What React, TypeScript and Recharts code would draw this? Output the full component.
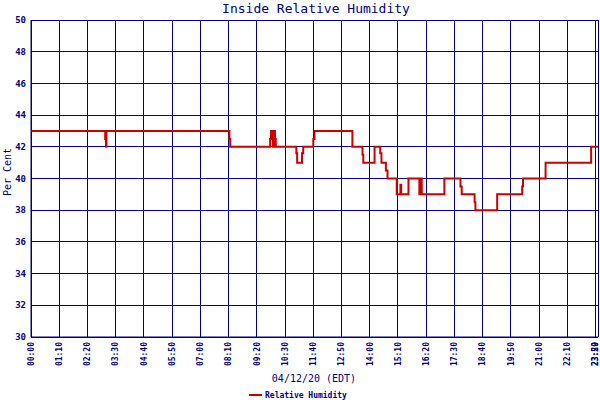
import { CartesianGrid, Line, LineChart, XAxis, YAxis } from "recharts"

// sample slot on the time axis; ticks fall every 70 slots (70 minutes),
// the last few samples of the day are compressed into the final slots
const slots = [
  0, 184, 186, 187, 492, 494, 593, 595, 600, 602, 605, 607, 658, 660, 672, 675, 700, 703, 797,
  822, 824, 852, 866, 869, 880, 884, 907, 916, 918, 936, 963, 965, 969, 1025, 1065, 1068, 1100,
  1102, 1156, 1218, 1220, 1276, 1389, 1406,
]
const humidity = [
  43, 42.5, 42, 43, 42.5, 42, 42.5, 43, 42, 43, 42.5, 42, 41.6, 41, 41.6, 42, 42.5, 43, 42,
  41.5, 41, 42, 41.6, 41, 40.5, 40, 39, 39.6, 39, 40, 39, 40, 39, 40, 39.5, 39, 38.5,
  38, 39, 39.5, 40, 41, 42, 42,
]

const tickSlots = [
  0, 70, 140, 210, 280, 350, 420, 490, 560, 630, 700, 770, 840, 910, 980, 1050, 1120, 1190,
  1260, 1330, 1400, 1406,
]
const tickLabels = [
  "00:00", "01:10", "02:20", "03:30", "04:40", "05:50", "07:00", "08:10", "09:20", "10:30",
  "11:40", "12:50", "14:00", "15:10", "16:20", "17:30", "18:40", "19:50", "21:00", "22:10",
  "23:20", "23:59",
]
const yTicks = [30, 32, 34, 36, 38, 40, 42, 44, 46, 48, 50]

const NAVY = "#000080"
const RED = "#cc0000"
const MONO = "'DejaVu Sans Mono', monospace"

const data = slots.map((s, i) => ({ slot: s, rh: humidity[i] }))

function TimeTick({ x, y, payload }: any) {
  const idx = tickSlots.indexOf(payload.value)
  // last label sits on the right edge, keep it inside the picture
  const last = idx === tickSlots.length - 1
  return (
    <text
      transform={`translate(${x},${y}) rotate(-90)`}
      textAnchor="end"
      dy={last ? "0.05em" : "0.35em"}
      fontSize={8}
      fontFamily={MONO}
      fontWeight="bold"
      fill={NAVY}
    >
      {idx >= 0 ? tickLabels[idx] : ""}
    </text>
  )
}

export default function App() {
  return (
    <div style={{ position: "relative", width: 600, height: 400, background: "#fff" }}>
      <style>{`body{margin:0} .recharts-cartesian-grid line{shape-rendering:crispEdges}`}</style>
      <LineChart
        width={600}
        height={400}
        data={data}
        margin={{ top: 20, right: 2, bottom: 23, left: 0 }}
      >
        <CartesianGrid stroke={NAVY} strokeWidth={1} />
        <XAxis
          dataKey="slot"
          type="number"
          domain={[0, 1406]}
          ticks={tickSlots}
          interval={0}
          height={40}
          tickSize={0}
          tickMargin={5}
          stroke={NAVY}
          tick={<TimeTick />}
        />
        <YAxis
          type="number"
          domain={[30, 50]}
          ticks={yTicks}
          interval={0}
          width={31}
          tickSize={0}
          tickMargin={5}
          stroke={NAVY}
          tick={{ fill: NAVY, fontSize: 9, fontFamily: MONO, fontWeight: "bold" }}
        />
        <Line
          dataKey="rh"
          type="stepAfter"
          stroke={RED}
          strokeWidth={2}
          dot={false}
          isAnimationActive={false}
        />
      </LineChart>
      <svg
        width={600}
        height={400}
        style={{ position: "absolute", left: 0, top: 0, pointerEvents: "none" }}
      >
        <text x={316} y={13} textAnchor="middle" fontSize={13} fontFamily={MONO} fill={NAVY}>
          Inside Relative Humidity
        </text>
        <text
          transform="translate(11,172) rotate(-90)"
          textAnchor="middle"
          fontSize={10}
          fontFamily={MONO}
          fill={NAVY}
        >
          Per Cent
        </text>
        <text x={314} y={382} textAnchor="middle" fontSize={10} fontFamily={MONO} fill={NAVY}>
          04/12/20 (EDT)
        </text>
        <line x1={249} x2={262} y1={395} y2={395} stroke={RED} strokeWidth={2} />
        <text x={265} y={398} fontSize={8} fontFamily={MONO} fontWeight="bold" fill={NAVY}>
          Relative Humidity
        </text>
      </svg>
    </div>
  )
}
